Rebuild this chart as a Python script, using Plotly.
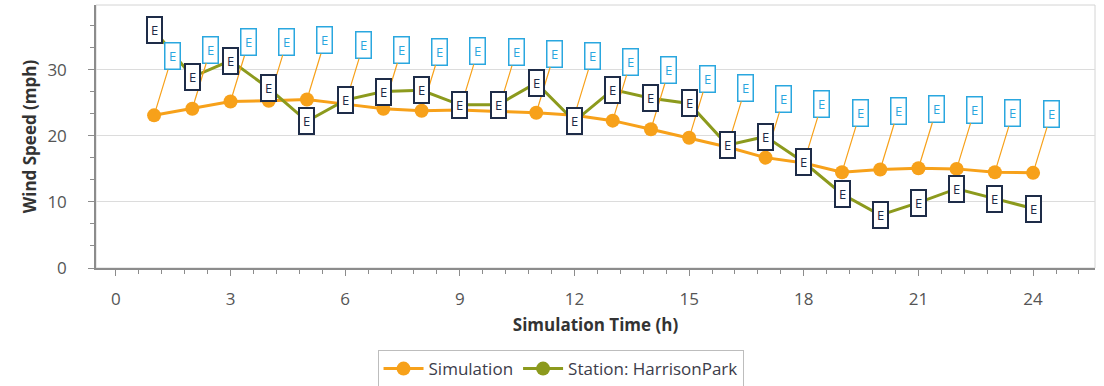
import plotly.graph_objects as go

# Data
hours = list(range(1, 25))
simulation = [23.1, 24.1, 25.2, 25.3, 25.5, 24.8, 24.1, 23.8, 23.9, 23.7, 23.5, 23.1,
              22.3, 21.0, 19.7, 18.3, 16.7, 15.9, 14.5, 14.9, 15.1, 15.0, 14.5, 14.4]
station = [36.0, 28.9, 31.4, 27.2, 22.2, 25.4, 26.7, 26.9, 24.7, 24.7, 28.0, 22.2,
           27.0, 25.7, 24.9, 18.6, 19.9, 16.0, 11.2, 8.0, 9.9, 12.0, 10.5, 9.0]
sim_label = "Simulation"
station_label = "Station: HarrisonPark"
flag_text = "E"

ORANGE = "#F7A11A"
OLIVE = "#8C9A1D"
NAVY = "#1E2C48"
CYAN = "#2AA7DF"
FONT = "Open Sans, Noto Sans, sans-serif"

fig = go.Figure()
fig.add_trace(
    go.Scatter(
        x=hours,
        y=simulation,
        name=sim_label,
        mode="lines+markers",
        line=dict(color=ORANGE, width=3),
        marker=dict(color=ORANGE, size=14),
    )
)
fig.add_trace(
    go.Scatter(
        x=hours,
        y=station,
        name=station_label,
        mode="lines+markers",
        line=dict(color=OLIVE, width=3),
        marker=dict(color=OLIVE, size=14),
    )
)

# flag labels: cyan ones hang off the simulation points, navy ones sit on the station points
annotations = []
for h, v in zip(hours, simulation):
    annotations.append(
        dict(
            x=h, y=v, xref="x", yref="y",
            text=flag_text,
            showarrow=True, arrowhead=0, arrowwidth=1.2, arrowcolor=ORANGE,
            ax=18, ay=-59,
            font=dict(family=FONT, size=13, color=CYAN),
            bgcolor="white", bordercolor=CYAN, borderwidth=1.5, borderpad=1,
            width=12, height=23,
        )
    )
for h, v in zip(hours, station):
    annotations.append(
        dict(
            x=h, y=v, xref="x", yref="y",
            text=flag_text,
            showarrow=False,
            font=dict(family=FONT, size=13, color=NAVY),
            bgcolor="white", bordercolor=NAVY, borderwidth=2, borderpad=1,
            width=11, height=22,
        )
    )

fig.update_layout(
    width=1104,
    height=386,
    margin=dict(l=96, r=9, t=5, b=118, autoexpand=False),
    paper_bgcolor="white",
    plot_bgcolor="white",
    font=dict(family=FONT, size=17, color="#555555"),
    showlegend=True,
    legend=dict(
        orientation="h",
        x=0.465, xanchor="center",
        y=-0.312, yanchor="top",
        bordercolor="#bdbdbd", borderwidth=1,
        itemwidth=40,
        font=dict(size=17, color="#3c3c4a"),
    ),
    annotations=annotations,
    shapes=[
        dict(
            type="rect", xref="paper", yref="paper",
            x0=0, x1=1, y0=0, y1=1,
            line=dict(color="#d4d4d4", width=1), layer="below",
        )
    ],
)
fig.update_xaxes(
    range=[-0.52, 25.62],
    tickmode="linear", tick0=0, dtick=3,
    ticks="outside", ticklen=6, tickcolor="#8c8c8c",
    ticklabelstandoff=9,
    minor=dict(tickmode="linear", tick0=0, dtick=0.6, ticks="outside", ticklen=4, tickcolor="#8c8c8c"),
    showgrid=False, zeroline=False,
    showline=True, linecolor="#8c8c8c", linewidth=1.5,
    title=dict(text="<b>Simulation Time (h)</b>", font=dict(size=17, color="#333333"), standoff=10),
)
fig.update_yaxes(
    range=[0, 39.8],
    tickmode="linear", tick0=0, dtick=10,
    ticks="outside", ticklen=6, tickcolor="#8c8c8c",
    ticklabelstandoff=18,
    minor=dict(tickmode="linear", tick0=0, dtick=10 / 3, ticks="outside", ticklen=4, tickcolor="#8c8c8c", showgrid=False),
    showgrid=True, gridcolor="#dcdcdc", gridwidth=1,
    zeroline=False,
    showline=True, linecolor="#8c8c8c", linewidth=1.5,
    title=dict(text="<b>Wind Speed (mph)</b>", font=dict(size=17, color="#333333"), standoff=6),
)

# the page's default body margin would shift the figure by 8px
fig.write_html(
    "out.html",
    config={"displayModeBar": False},
    post_script="document.body.style.margin = '0';",
)
